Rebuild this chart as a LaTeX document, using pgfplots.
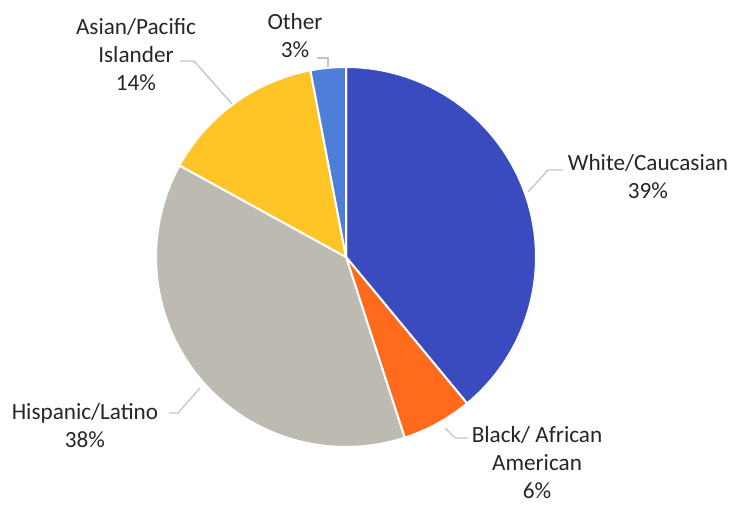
\documentclass[border=0pt]{standalone}
\usepackage{pgfplots}
\usepackage{pgfplotstable}
\pgfplotsset{compat=1.18}
\usepackage{fontspec}
\setmainfont{Carlito}

\definecolor{cWhite}{HTML}{3A4BC0}
\definecolor{cBlack}{HTML}{FF6A1C}
\definecolor{cHisp}{HTML}{BDBAB1}
\definecolor{cAsian}{HTML}{FFC425}
\definecolor{cOther}{HTML}{4D7FDA}
\definecolor{leader}{HTML}{C4C4C4}

\pgfplotstableread{
label pct
White 39
Black 6
Hispanic 38
Asian 14
Other 3
}\piedata

\pgfplotstablegetelem{0}{pct}\of\piedata \let\pA\pgfplotsretval
\pgfplotstablegetelem{1}{pct}\of\piedata \let\pB\pgfplotsretval
\pgfplotstablegetelem{2}{pct}\of\piedata \let\pC\pgfplotsretval
\pgfplotstablegetelem{3}{pct}\of\piedata \let\pD\pgfplotsretval
\pgfplotstablegetelem{4}{pct}\of\piedata \let\pE\pgfplotsretval

\pgfmathsetmacro\aO{90}
\pgfmathsetmacro\aA{\aO-3.6*\pA}
\pgfmathsetmacro\aB{\aA-3.6*\pB}
\pgfmathsetmacro\aC{\aB-3.6*\pC}
\pgfmathsetmacro\aD{\aC-3.6*\pD}
\pgfmathsetmacro\aE{\aD-3.6*\pE}

\def\cx{346}
\def\cy{257}
\def\R{190}

\newcommand\slice[3]{%
  \addplot[draw=white, line width=2bp, fill=#3, domain=#2:#1, samples=90, variable=\t]
    ({\cx+\R*cos(\t)},{\cy-\R*sin(\t)}) -- (axis cs:\cx,\cy) -- cycle;}

\begin{document}
\begin{tikzpicture}
\begin{axis}[
  scale only axis, width=733bp, height=506bp,
  xmin=0, xmax=733, ymin=0, ymax=506, y dir=reverse,
  hide axis, clip=false,
]
\path (axis cs:0,0) (axis cs:733,506);
\slice{\aO}{\aA}{cWhite}
\slice{\aA}{\aB}{cBlack}
\slice{\aB}{\aC}{cHisp}
\slice{\aC}{\aD}{cAsian}
\slice{\aD}{\aE}{cOther}

% leader lines
\draw[leader, line width=1.3bp] (axis cs:563,170) -- (axis cs:548,170) -- (axis cs:528,192);
\draw[leader, line width=1.3bp] (axis cs:468,438) -- (axis cs:455,438) -- (axis cs:445,428);
\draw[leader, line width=1.3bp] (axis cs:169,413) -- (axis cs:178,413) -- (axis cs:200,388);
\draw[leader, line width=1.3bp] (axis cs:180,61) -- (axis cs:194,61) -- (axis cs:232,104);
\draw[leader, line width=1.3bp] (axis cs:317,58) -- (axis cs:328,58) -- (axis cs:328,67);

\tikzset{lab/.style={align=center, text=black!85, inner sep=0pt,
  font=\fontsize{23.2bp}{28bp}\selectfont}}
\node[lab] at (axis cs:648,177) {White/Caucasian\\39\%};
\node[lab] at (axis cs:537,463) {Black/ African\\American\\6\%};
\node[lab] at (axis cs:85,426) {Hispanic/Latino\\38\%};
\node[lab] at (axis cs:136,55) {Asian/Pacific\\Islander\\14\%};
\node[lab] at (axis cs:295,36) {Other\\3\%};
\end{axis}
\end{tikzpicture}
\end{document}
